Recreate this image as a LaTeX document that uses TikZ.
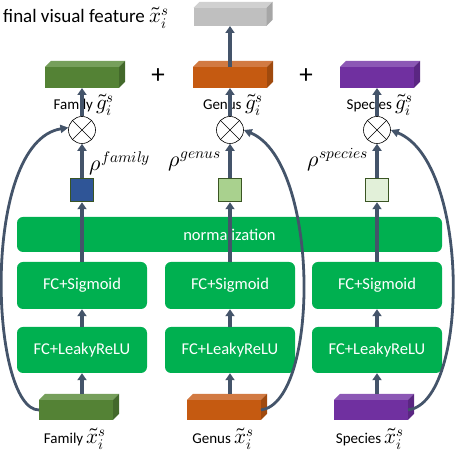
\documentclass[tikz,border=0pt]{standalone}
\usepackage{fontspec}
\usepackage{unicode-math}
\setmainfont{Carlito}
\setmathfont{Latin Modern Math}
\usetikzlibrary{arrows.meta}

\definecolor{netgreen}{HTML}{00B050}
\definecolor{arrowblue}{HTML}{44546A}
\definecolor{famfront}{HTML}{548235}
\definecolor{famtop}{HTML}{769F5B}
\definecolor{famside}{HTML}{43692B}
\definecolor{genfront}{HTML}{C55A11}
\definecolor{gentop}{HTML}{D27A42}
\definecolor{genside}{HTML}{A04A0E}
\definecolor{spefront}{HTML}{7030A0}
\definecolor{spetop}{HTML}{8C58B5}
\definecolor{speside}{HTML}{5A2682}
\definecolor{grayfront}{HTML}{BFBFBF}
\definecolor{graytop}{HTML}{D0D0D0}
\definecolor{grayside}{HTML}{A6A6A6}
\definecolor{wborder}{HTML}{3A5523}
\definecolor{wfamily}{HTML}{2F5597}
\definecolor{wgenus}{HTML}{A9D18E}
\definecolor{wspecies}{HTML}{E2F0D9}

% top and side faces of a feature block
\newcommand{\prismfaces}[3]{%
  \fill[#2] (#1.north west) -- ++(6,6) -- ([shift={(6,6)}]#1.north east) -- (#1.north east) -- cycle;
  \fill[#3] (#1.north east) -- ++(6,6) -- ([shift={(6,6)}]#1.south east) -- (#1.south east) -- cycle;}
% feature symbol, set larger than the words
\newcommand{\featsym}[1]{{\fontsize{21}{24}\selectfont$\tilde{#1}_i^{s}$}}

\tikzset{
  layer/.style={fill=netgreen, rounded corners=6pt, text=white, inner sep=0pt,
    font=\fontsize{16.5}{19}\selectfont},
  feat/.style={minimum width=74pt, minimum height=21pt, inner sep=0pt, outer sep=0pt},
  weight/.style={draw=wborder, line width=1.5pt, minimum size=23pt, inner sep=0pt},
  prod/.style={circle, draw=black, fill=white, line width=0.6pt, minimum size=27pt, inner sep=0pt},
  arr/.style={draw=arrowblue, line width=3.4pt, -{Triangle[length=7pt,width=9pt]}},
  skip/.style={draw=arrowblue, line width=2.8pt, -{Triangle[length=8pt,width=8pt]}},
  lbl/.style={inner sep=0pt, font=\fontsize{15}{18}\selectfont},
  rholbl/.style={inner sep=0pt, font=\fontsize{22}{26}\selectfont},
  plus/.style={inner sep=0pt, font=\fontsize{27}{30}\selectfont},
}

\begin{document}
\begin{tikzpicture}[x=1pt,y=1pt]
\useasboundingbox (0,0) rectangle (464,452);

% final feature
\node[feat, fill=grayfront, minimum width=73pt, minimum height=18pt] (final) at (230,435) {};
\prismfaces{final}{graytop}{grayside}
\node[lbl, anchor=west, font=\fontsize{19}{22}\selectfont] (finallbl) at (3,434) {final visual feature \featsym{x}};

% refined features
\node[feat, fill=famfront] (famout) at (82,374.5) {};
\node[feat, fill=genfront] (genout) at (230,374.5) {};
\node[feat, fill=spefront] (speout) at (377,374.5) {};
\prismfaces{famout}{famtop}{famside}
\prismfaces{genout}{gentop}{genside}
\prismfaces{speout}{spetop}{speside}
\node[plus] (plusa) at (158,376) {+};
\node[plus] (plusb) at (306,376) {+};
\node[lbl] (famoutlbl) at (84,347) {Family \featsym{g}};
\node[lbl] (genoutlbl) at (233,347) {Genus \featsym{g}};
\node[lbl] (speoutlbl) at (380,347) {Species \featsym{g}};

% products
\node[prod] (famprod) at (82,322) {};
\node[prod] (genprod) at (230,322) {};
\node[prod] (speprod) at (377,322) {};
\foreach \p in {famprod,genprod,speprod} {
  \draw[line width=0.6pt] (\p.45) -- (\p.225) (\p.135) -- (\p.315);
}

% weights
\node[weight, fill=wfamily] (famrho) at (82,262) {};
\node[weight, fill=wgenus] (genrho) at (230,262) {};
\node[weight, fill=wspecies] (sperho) at (377,262) {};
\node[rholbl] (famrholbl) at (120,289) {$\rho^{family}$};
\node[rholbl] (genrholbl) at (195,291) {$\rho^{genus}$};
\node[rholbl] (sperholbl) at (338,292) {$\rho^{species}$};

% layers
\node[layer, minimum width=425pt, minimum height=35pt] (norm) at (229.5,217.5) {normalization};
\node[layer, minimum width=130pt, minimum height=47pt] (famsig) at (82,166.5) {FC+Sigmoid};
\node[layer, minimum width=130pt, minimum height=47pt] (gensig) at (230,166.5) {FC+Sigmoid};
\node[layer, minimum width=130pt, minimum height=47pt] (spesig) at (377,166.5) {FC+Sigmoid};
\node[layer, minimum width=130pt, minimum height=46pt] (famrelu) at (82,102) {FC+LeakyReLU};
\node[layer, minimum width=130pt, minimum height=46pt] (genrelu) at (230,102) {FC+LeakyReLU};
\node[layer, minimum width=130pt, minimum height=46pt] (sperelu) at (377,102) {FC+LeakyReLU};

% input features
\node[feat, fill=famfront, minimum height=20pt] (famin) at (76,42) {};
\node[feat, fill=genfront, minimum height=20pt] (genin) at (224,42) {};
\node[feat, fill=spefront, minimum height=20pt] (spein) at (371,42) {};
\prismfaces{famin}{famtop}{famside}
\prismfaces{genin}{gentop}{genside}
\prismfaces{spein}{spetop}{speside}
\node[lbl] (faminlbl) at (75,13) {Family \featsym{x}};
\node[lbl] (geninlbl) at (223,13) {Genus \featsym{x}};
\node[lbl] (speinlbl) at (370,13) {Species \featsym{x}};

% main path
\foreach \t in {fam,gen,spe} {
  \draw[arr] ([shift={(6,6)}]\t in.north) -- (\t relu.south);
  \draw[arr] (\t relu.north) -- (\t sig.south);
  \draw[arr] (\t sig.north) -- (\t rho.south);
  \draw[arr] (\t rho.north) -- (\t prod.south);
  \draw[arr] (\t prod.north) -- (\t out.south);
}
\draw[arr] (genout.north) -- (final.south);

% skip connections
\draw[skip] (famin.west) .. controls (-10,42) and (-20,310) .. (famprod.170);
\draw[skip] (genin.east) .. controls (320,50) and (320,290) .. (genprod.east);
\draw[skip] (spein.east) .. controls (470,50) and (470,290) .. (speprod.east);
\end{tikzpicture}
\end{document}
